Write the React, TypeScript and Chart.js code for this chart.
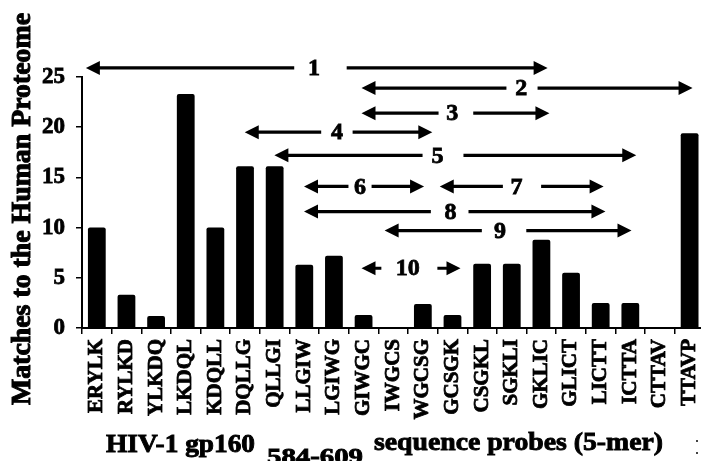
import React, { useEffect, useRef } from "react";
import { Chart, registerables } from "chart.js";

Chart.register(...registerables);

const probes = [
  "ERYLK", "RYLKD", "YLKDQ", "LKDQL", "KDQLL", "DQLLG", "QLLGI", "LLGIW", "LGIWG", "GIWGC",
  "IWGCS", "WGCSG", "GCSGK", "CSGKL", "SGKLI", "GKLIC", "GLICT", "LICTT", "ICTTA", "CTTAV", "TTAVP",
];
const matches = [10, 3.3, 1.2, 23.3, 10, 16.1, 16.1, 6.3, 7.2, 1.3, 0, 2.4, 1.3, 6.4, 6.4, 8.8, 5.5, 2.5, 2.5, 0, 19.4];
const yTicks = [0, 5, 10, 15, 20, 25];

// annotation ranges (category index units, value units)
const arrowNames = ["1", "2", "3", "4", "5", "6", "7", "8", "9", "10"];
const arrowFrom = [-0.37, 8.93, 8.93, 4.99, 5.99, 6.99, 11.57, 6.99, 9.71, 8.93];
const arrowTo = [15.21, 20.1, 15.27, 11.32, 18.2, 11.04, 17.1, 17.16, 18.04, 12.27];
const arrowLevel = [25.9, 23.9, 21.4, 19.5, 17.2, 14.1, 14.1, 11.6, 9.7, 5.95];
const arrowLabelAt = [7.33, 14.32, 11.99, 8.1, 11.49, 8.88, 14.16, 11.93, 13.6, 10.49];
const gapFrom = [6.66, 13.82, 11.53, 7.57, 10.99, 8.49, 13.7, 11.27, 12.99, 9.6];
const gapTo = [8.43, 14.87, 12.7, 8.63, 12.37, 9.27, 14.99, 12.54, 14.49, 11.49];

const yTitle = "Matches to the Human Proteome";
const xTitleA = "HIV-1 gp160";
const xTitleSub = "584-609";
const xTitleB = "sequence probes (5-mer)";

const SERIF = '"Liberation Serif", "Times New Roman", serif';

function heavyText(ctx: CanvasRenderingContext2D, text: string, x: number, y: number) {
  ctx.strokeText(text, x, y);
  ctx.fillText(text, x, y);
}

function stretchText(ctx: CanvasRenderingContext2D, text: string, x: number, y: number, font: string, target: number) {
  ctx.save();
  ctx.font = font;
  const w = ctx.measureText(text).width;
  ctx.translate(x, y);
  ctx.scale(target / w, 1);
  ctx.textAlign = "left";
  ctx.textBaseline = "alphabetic";
  ctx.lineWidth = 0.9;
  heavyText(ctx, text, 0, 0);
  ctx.restore();
}

const annotate = {
  id: "annotate",
  afterDraw(chart: any) {
    const ctx: CanvasRenderingContext2D = chart.ctx;
    const xs = chart.scales.x;
    const ys = chart.scales.y;
    ctx.save();
    ctx.fillStyle = "#000";
    ctx.strokeStyle = "#000";
    const headL = 14;
    const headW = 7;
    for (let i = 0; i < arrowNames.length; i++) {
      const x1 = xs.getPixelForValue(arrowFrom[i]);
      const x2 = xs.getPixelForValue(arrowTo[i]);
      const y = ys.getPixelForValue(arrowLevel[i]);
      const g1 = xs.getPixelForValue(gapFrom[i]);
      const g2 = xs.getPixelForValue(gapTo[i]);
      const lx = xs.getPixelForValue(arrowLabelAt[i]);
      ctx.lineWidth = 3.2;
      ctx.beginPath();
      ctx.moveTo(x1 + headL - 1, y);
      ctx.lineTo(g1, y);
      ctx.moveTo(g2, y);
      ctx.lineTo(x2 - headL + 1, y);
      ctx.stroke();
      ctx.beginPath();
      ctx.moveTo(x1, y);
      ctx.lineTo(x1 + headL, y - headW);
      ctx.lineTo(x1 + headL, y + headW);
      ctx.closePath();
      ctx.fill();
      ctx.beginPath();
      ctx.moveTo(x2, y);
      ctx.lineTo(x2 - headL, y - headW);
      ctx.lineTo(x2 - headL, y + headW);
      ctx.closePath();
      ctx.fill();
      ctx.font = `bold 24px ${SERIF}`;
      ctx.textAlign = "center";
      ctx.textBaseline = "middle";
      ctx.lineWidth = 0.8;
      heavyText(ctx, arrowNames[i], lx, y + 1);
    }

    // y-axis title
    ctx.save();
    ctx.font = `bold 27px ${SERIF}`;
    const tw = ctx.measureText(yTitle).width;
    ctx.translate(23, 209);
    ctx.rotate(-Math.PI / 2);
    ctx.scale(392 / tw, 1);
    ctx.textAlign = "center";
    ctx.textBaseline = "middle";
    ctx.lineWidth = 1;
    heavyText(ctx, yTitle, 0, 0);
    ctx.restore();

    // x-axis title
    stretchText(ctx, xTitleA, 106, 452, `bold 26px ${SERIF}`, 149);
    stretchText(ctx, xTitleSub, 267, 464, `bold 24px ${SERIF}`, 96);
    stretchText(ctx, xTitleB, 374, 450, `bold 26px ${SERIF}`, 289);

    // faint remnant marks at right edge
    ctx.fillStyle = "#444";
    ctx.fillRect(696, 440, 2, 2);
    ctx.fillRect(696, 452, 2, 2);
    ctx.restore();
  },
};

export default function App() {
  const ref = useRef<HTMLCanvasElement>(null);
  useEffect(() => {
    if (!ref.current) return;
    const chart = new Chart(ref.current, {
      type: "bar",
      data: {
        labels: probes,
        datasets: [
          {
            data: matches,
            backgroundColor: "#000",
            borderWidth: 0,
            borderRadius: 2,
            barPercentage: 0.6,
            categoryPercentage: 1,
          },
        ],
      },
      options: {
        responsive: false,
        animation: false,
        layout: { padding: { left: 0, right: 8, top: 77, bottom: 0 } },
        plugins: { legend: { display: false }, tooltip: { enabled: false }, title: { display: false } },
        scales: {
          x: {
            offset: true,
            grid: { offset: true, drawOnChartArea: false, drawTicks: true, tickLength: 6, color: "#000", lineWidth: 1.5 },
            border: { color: "#000", width: 2 },
            ticks: {
              autoSkip: false,
              minRotation: 90,
              maxRotation: 90,
              padding: 5,
              color: "#000",
              textStrokeColor: "#000",
              textStrokeWidth: 0.8,
              font: { family: SERIF, size: 21, weight: "bold" },
            },
            afterFit: (s: any) => {
              s.height = 133;
            },
          },
          y: {
            min: 0,
            max: 25,
            afterBuildTicks: (s: any) => {
              s.ticks = yTicks.map((v) => ({ value: v }));
            },
            grid: { drawOnChartArea: false, drawTicks: true, tickLength: 6, color: "#000", lineWidth: 1.5 },
            border: { color: "#000", width: 2 },
            ticks: {
              padding: 11,
              color: "#000",
              textStrokeColor: "#000",
              textStrokeWidth: 0.8,
              font: { family: SERIF, size: 23, weight: "bold" },
            },
            afterFit: (s: any) => {
              s.width = 82;
            },
          },
        },
      },
      plugins: [annotate],
    });
    return () => chart.destroy();
  }, []);
  return (
    <div style={{ position: "fixed", left: 0, top: 0, width: 701, height: 461, overflow: "hidden", background: "#fff" }}>
      <canvas ref={ref} width={720} height={461} style={{ display: "block" }} />
    </div>
  );
}
